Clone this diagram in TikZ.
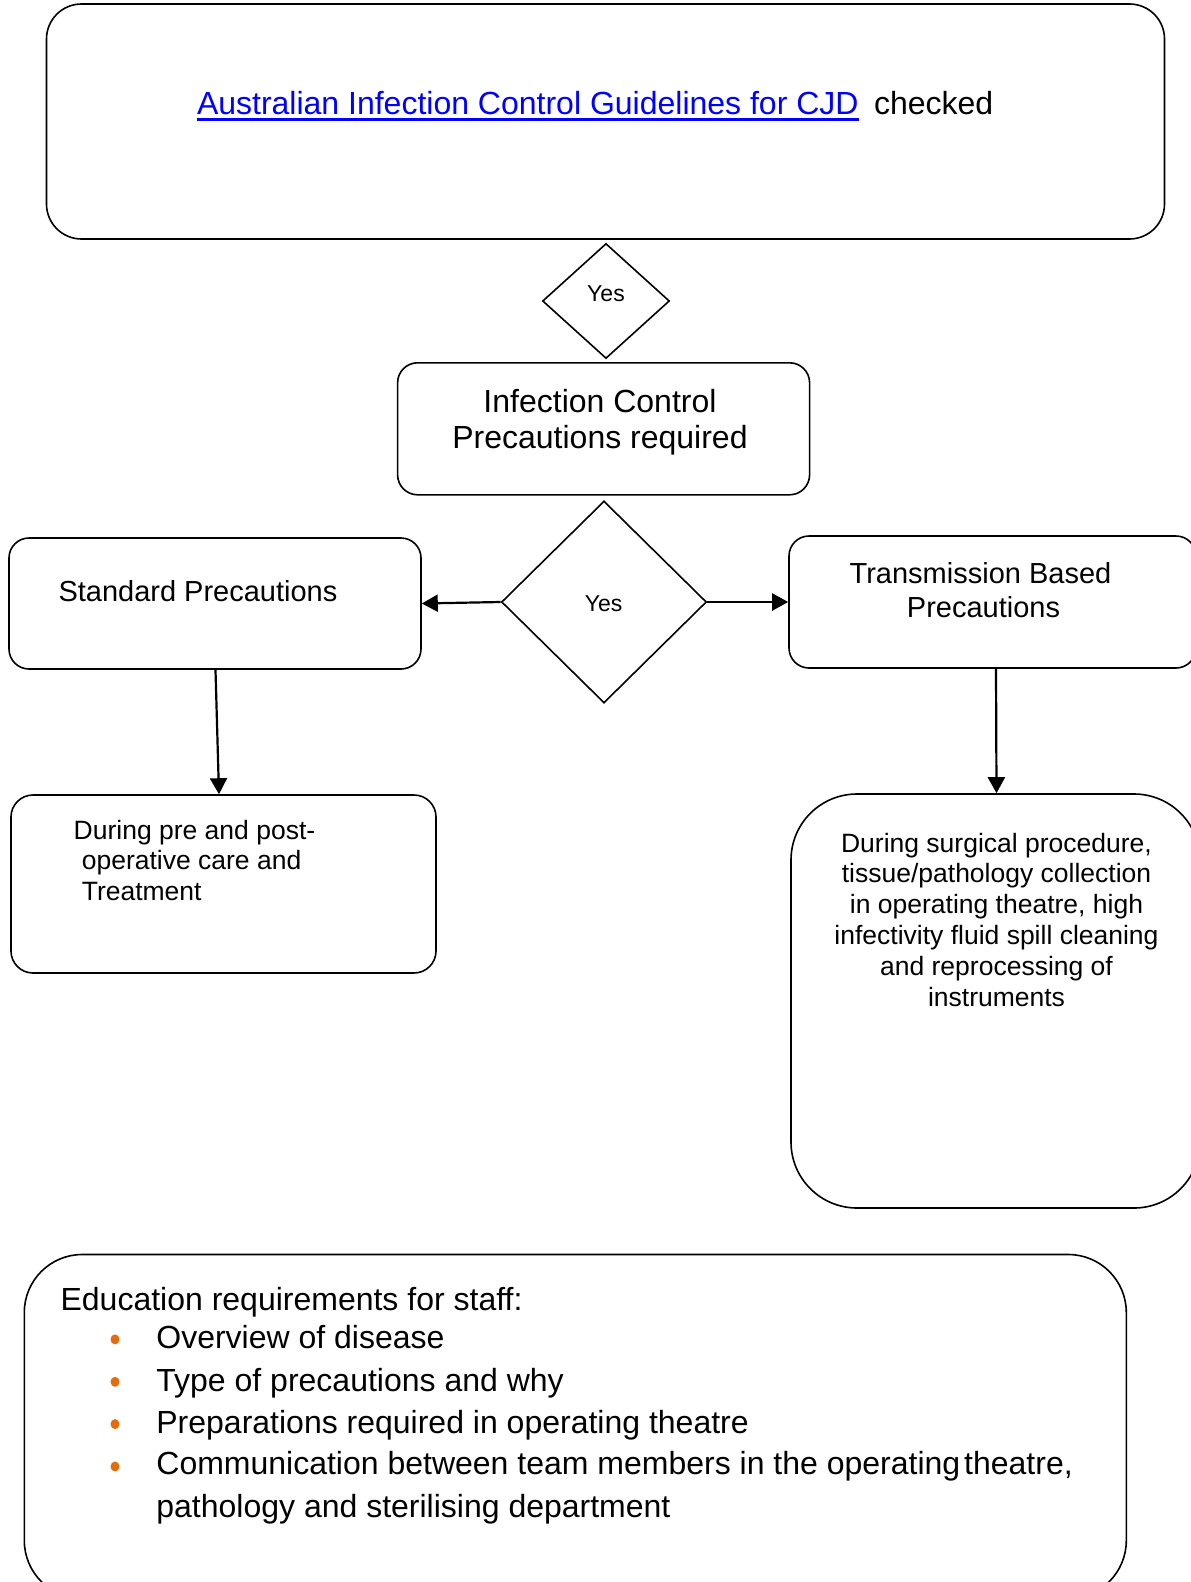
\documentclass[tikz,border=0pt]{standalone}
\usepackage{fontspec}
\setmainfont{Liberation Sans}
\usetikzlibrary{shapes.geometric,arrows.meta}
\definecolor{linkblue}{RGB}{0,0,255}
\definecolor{bulletorange}{RGB}{228,108,10}
\begin{document}
\begin{tikzpicture}[x=1pt,y=-1pt,
  box/.style={draw,line width=1.6pt,rounded corners=#1,inner sep=0pt,rectangle},
  dia/.style={draw,diamond,line width=1.6pt,inner sep=0pt},
  arr/.style={line width=2.2pt,-{Triangle[length=16pt,width=17pt]}},
  txt/.style={inner sep=0pt,outer sep=0pt},
  fbig/.style={font=\fontsize{32}{36.5}\selectfont},
  fmid/.style={font=\fontsize{29}{34}\selectfont},
  fsmall/.style={font=\fontsize{26.5}{30.8}\selectfont},
  fyes/.style={font=\fontsize{23}{26}\selectfont},
  bul/.style={fill=bulletorange}
]
\useasboundingbox (0,0) rectangle (1191,1582);
\clip (0,0) rectangle (1191,1582);
\fill[white] (0,0) rectangle (1191,1582);

% boxes
\node[box=35pt, minimum width=1118pt, minimum height=235pt] (top) at (605.5,121.5) {};
\node[dia, minimum width=127pt, minimum height=115pt] (dia1) at (606,301) {};
\node[box=20pt, minimum width=412pt, minimum height=132pt] (ic) at (603.6,428.8) {};
\node[dia, minimum width=205pt, minimum height=202pt] (dia2) at (604,602) {};
\node[box=20pt, minimum width=412pt, minimum height=131pt] (std) at (215,603.5) {};
\node[box=20pt, minimum width=407pt, minimum height=132pt] (trans) at (992.5,602) {};
\node[box=22pt, minimum width=425pt, minimum height=178pt] (lbox) at (223.5,884) {};
\node[box=66pt, minimum width=409pt, minimum height=414pt] (rbox) at (995.5,1001) {};
\node[box=58pt, minimum width=1102pt, minimum height=344pt] (edu) at (575.3,1426.5) {};

% connectors
\draw[arr] (dia2.west) -- (std.east);
\draw[arr] (dia2.east) -- (trans.west);
\draw[arr] ([xshift=0.5pt]std.south) -- ([xshift=-4.5pt]lbox.north);
\draw[arr] ([xshift=3.5pt]trans.south) -- ([xshift=1pt]rbox.north);

% texts
\node[txt, fbig, text=linkblue, anchor=base west] (link) at (197,114) {Australian Infection Control Guidelines for CJD};
\draw[linkblue, line width=2.4pt] ([yshift=-5.5pt]link.base west) -- ([yshift=-5.5pt]link.base east);
\node[txt, fbig, anchor=base west] (chk) at (874,114) {checked};

\node[txt, fyes, anchor=center] (yes1) at (606,294) {Yes};
\node[txt, fyes, anchor=center] (yes2) at (603.6,604) {Yes};

\node[txt, fbig, anchor=base] (ictxt) at (600,412) {\begin{tabular}[t]{@{}c@{}}Infection Control\\Precautions required\end{tabular}};

\node[txt, fmid, anchor=base west] (stdtxt) at (58.5,601) {Standard Precautions};
\node[txt, fmid, anchor=base] (transtxt) at (980.5,583.5) {\begin{tabular}[t]{@{}c@{}}Transmission Based\\\hspace{6pt}Precautions\end{tabular}};

\node[txt, fsmall, anchor=base west] (ltxt) at (73.7,839) {\begin{tabular}[t]{@{}l@{}}During pre and post-\\\hspace{8.1pt}operative care and\\\hspace{8.1pt}Treatment\end{tabular}};

\node[txt, fsmall, anchor=base] (rtxt) at (996.5,852) {\begin{tabular}[t]{@{}c@{}}During surgical procedure,\\tissue/pathology collection\\in operating theatre, high\\infectivity fluid spill cleaning\\and reprocessing of\\instruments\end{tabular}};

\node[txt, fbig, anchor=base west] (edutitle) at (60.6,1310) {Education requirements for staff:};
\node[txt, fbig, anchor=base west] (e1) at (156.4,1348.5) {Overview of disease};
\node[txt, fbig, anchor=base west] (e2) at (156.4,1391) {Type of precautions and why};
\node[txt, fbig, anchor=base west] (e3) at (156.4,1433) {Preparations required in operating theatre};
\node[txt, fbig, anchor=base west] (e4) at (156.4,1474.5) {Communication between team members in the operating\hspace{4pt}theatre,};
\node[txt, fbig, anchor=base west] (e5) at (156.4,1517) {pathology and sterilising department};

\fill[bul] (115,1339.4) ellipse (4.5pt and 5pt);
\fill[bul] (115,1381.8) ellipse (4.5pt and 5pt);
\fill[bul] (115,1424.1) ellipse (4.5pt and 5pt);
\fill[bul] (115,1466.5) ellipse (4.5pt and 5pt);
\end{tikzpicture}
\end{document}
